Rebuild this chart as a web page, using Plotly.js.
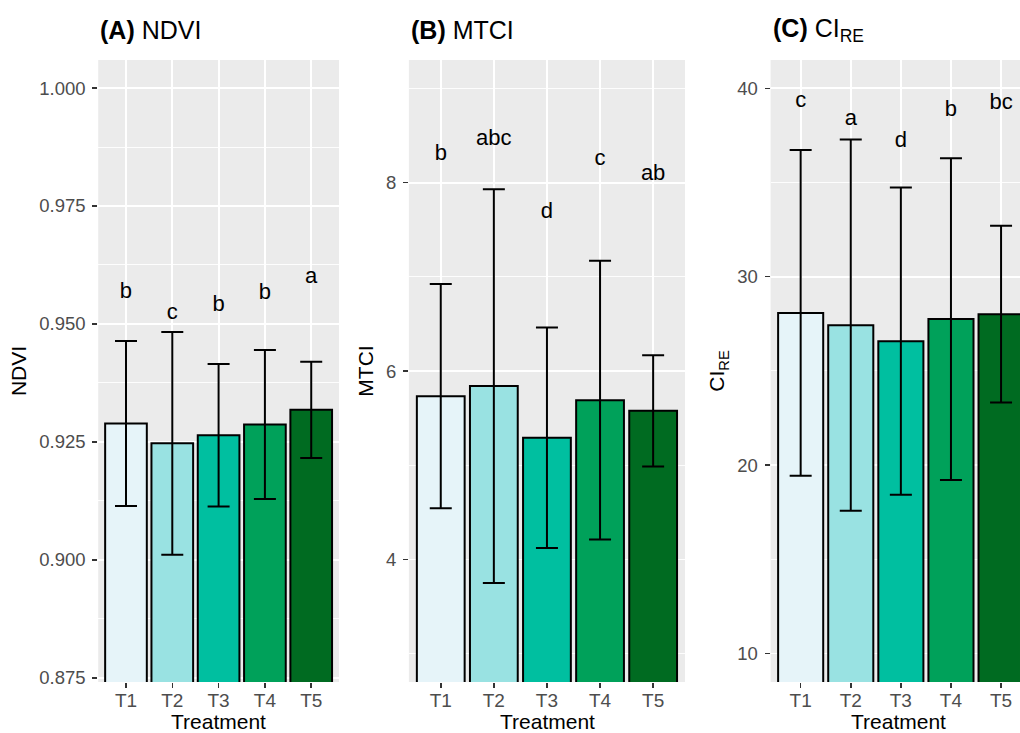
<!DOCTYPE html>
<html>
<head>
<meta charset="utf-8">
<script src="https://cdn.plot.ly/plotly-3.0.1.min.js"></script>
<style>
html,body{margin:0;padding:0;background:#fff;}
#chart{width:1020px;height:733px;}
</style>
</head>
<body>
<div id="chart"></div>
<script>
// ---- data ----
const treatments = ['T1', 'T2', 'T3', 'T4', 'T5'];
const barColors = ['#E6F4F9', '#99E2E2', '#00BFA0', '#00A15A', '#006B21'];

const ndviMean = [0.9289, 0.9247, 0.9264, 0.9287, 0.9318];
const ndviSD = [0.0175, 0.0236, 0.0151, 0.0158, 0.0102];
const ndviLetters = ['b', 'c', 'b', 'b', 'a'];
const ndviLetterY = [0.9566, 0.9522, 0.9540, 0.9564, 0.9598];

const mtciMean = [5.734, 5.841, 5.292, 5.692, 5.579];
const mtciSD = [1.19, 2.09, 1.17, 1.48, 0.59];
const mtciLetters = ['b', 'abc', 'd', 'c', 'ab'];
const mtciLetterY = [8.303, 8.462, 7.683, 8.250, 8.090];

const cireMean = [28.08, 27.43, 26.58, 27.75, 28.01];
const cireSD = [8.64, 9.85, 8.15, 8.54, 4.69];
const cireLetters = ['c', 'a', 'd', 'b', 'bc'];
const cireLetterY = [39.28, 38.36, 37.16, 38.81, 39.19];

// ---- style ----
const FONT = 'Liberation Sans, Arial, Helvetica, sans-serif';
const W = 1020, H = 733;

function barTrace(mean, sd, xa, ya) {
  return {
    type: 'bar', x: treatments, y: mean, xaxis: xa, yaxis: ya,
    width: 0.9,
    marker: {color: barColors, line: {color: '#000000', width: 2}},
    error_y: {type: 'data', array: sd, visible: true, color: '#000000', thickness: 2, width: 11},
    showlegend: false, hoverinfo: 'x+y'
  };
}
function letterTrace(letters, ly, xa, ya) {
  return {
    type: 'scatter', mode: 'text', x: treatments, y: ly, text: letters,
    xaxis: xa, yaxis: ya, textposition: 'middle center',
    textfont: {family: FONT, size: 22, color: '#000000'},
    cliponaxis: false, showlegend: false, hoverinfo: 'skip'
  };
}

const data = [
  barTrace(ndviMean, ndviSD, 'x', 'y'),
  letterTrace(ndviLetters, ndviLetterY, 'x', 'y'),
  barTrace(mtciMean, mtciSD, 'x2', 'y2'),
  letterTrace(mtciLetters, mtciLetterY, 'x2', 'y2'),
  barTrace(cireMean, cireSD, 'x3', 'y3'),
  letterTrace(cireLetters, cireLetterY, 'x3', 'y3')
];

const yDom = [(H - 682) / H, (H - 60) / H];
const panels = [[98.2, 339], [408.9, 685], [770.6, 1020]];

function xAxis(domPx, range, anchor) {
  return {
    domain: [domPx[0] / W, domPx[1] / W], anchor: anchor,
    type: 'category', range: range, fixedrange: true,
    showgrid: true, gridcolor: '#FFFFFF', gridwidth: 1.8,
    zeroline: false, showline: false,
    ticks: 'outside', ticklen: 5, tickwidth: 1.5, tickcolor: '#333333',
    ticklabelstandoff: -4,
    tickfont: {family: FONT, size: 19, color: '#4D4D4D'}
  };
}
function yAxis(range, tick0, dtick, fmt, title, anchor) {
  return {
    domain: yDom, anchor: anchor, range: range, fixedrange: true,
    tick0: tick0, dtick: dtick, tickformat: fmt,
    showgrid: true, gridcolor: '#FFFFFF', gridwidth: 1.8,
    minor: {dtick: dtick / 2, tick0: tick0, showgrid: true, gridcolor: '#FFFFFF', gridwidth: 0.9, ticks: ''},
    zeroline: false, showline: false,
    ticks: 'outside', ticklen: 5, tickwidth: 1.5, tickcolor: '#333333',
    ticklabelstandoff: 3,
    tickfont: {family: FONT, size: 18.5, color: '#4D4D4D'},
    title: {text: title, font: {family: FONT, size: 21, color: '#000000'}, standoff: 6}
  };
}

const titleAnn = [
  {text: '<b>(A)</b> NDVI', x: panels[0][0] / W, y: (H - 30) / H},
  {text: '<b>(B)</b> MTCI', x: panels[1][0] / W, y: (H - 30) / H},
  {text: '<b>(C)</b> CI<sub>RE</sub>', x: panels[2][0] / W, y: (H - 30) / H}
].map(a => Object.assign({
  xref: 'paper', yref: 'paper', xanchor: 'left', yanchor: 'middle', showarrow: false,
  font: {family: FONT, size: 25, color: '#000000'}
}, a));

const xTitleCenters = [218, 547, 898];
const xTitleAnn = xTitleCenters.map(cx => ({
  text: 'Treatment', x: cx / W, y: (H - 721) / H,
  xref: 'paper', yref: 'paper', xanchor: 'center', yanchor: 'middle', showarrow: false,
  borderpad: 0,
  font: {family: FONT, size: 21, color: '#000000'}
}));

const layout = {
  width: W, height: H,
  margin: {l: 0, r: 0, t: 0, b: 0},
  paper_bgcolor: '#FFFFFF', plot_bgcolor: '#EBEBEB',
  font: {family: FONT},
  bargap: 0,
  xaxis: xAxis(panels[0], [-0.6, 4.6], 'y'),
  yaxis: yAxis([0.87411, 1.00594], 0.875, 0.025, '.3f', 'NDVI', 'x'),
  xaxis2: xAxis(panels[1], [-0.6, 4.6], 'y2'),
  yaxis2: yAxis([2.700, 9.303], 4, 2, 'd', 'MTCI', 'x2'),
  xaxis3: xAxis(panels[2], [-0.6, 4.378], 'y3'),
  yaxis3: yAxis([8.487, 41.503], 10, 10, 'd', 'CI<sub>RE</sub>', 'x3'),
  annotations: titleAnn.concat(xTitleAnn)
};

Plotly.newPlot('chart', data, layout, {displayModeBar: false, staticPlot: true});
</script>
</body>
</html>
